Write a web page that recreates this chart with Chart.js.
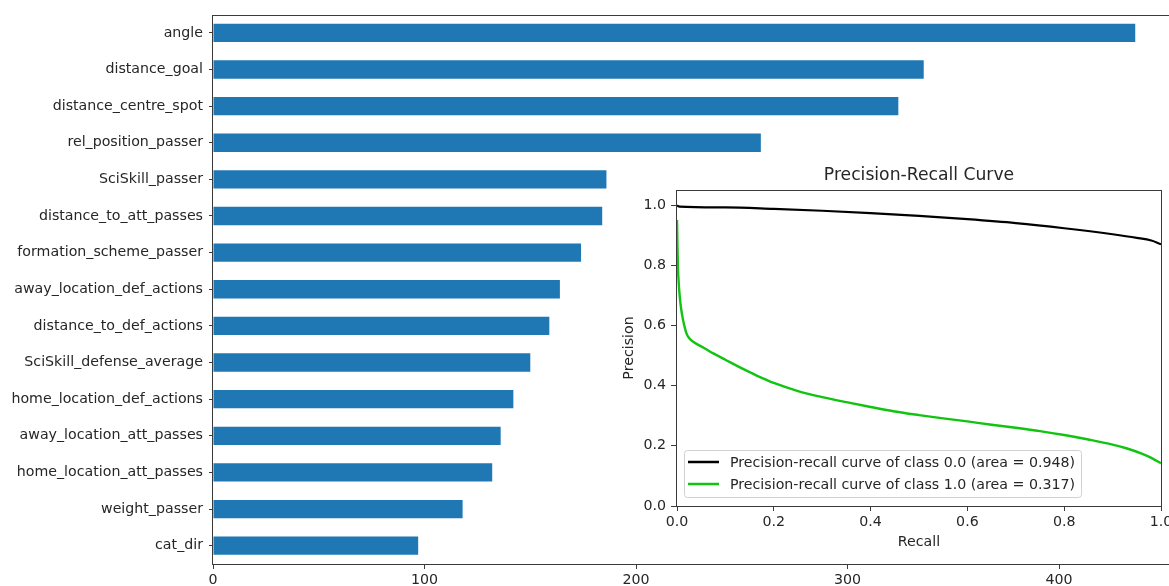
<!DOCTYPE html>
<html>
<head>
<meta charset="utf-8">
<title>Feature importance</title>
<script src="https://cdn.jsdelivr.net/npm/chart.js@4/dist/chart.umd.min.js"></script>
<style>
    html, body { margin: 0; padding: 0; background: #fff; overflow: hidden; }
    #wrap { position: relative; width: 1169px; height: 586px; overflow: hidden; }
    #main-chart { position: absolute; left: 0; top: 0; }
    #pr-chart { position: absolute; left: 600px; top: 160px; }
</style>
</head>
<body>
<div id="wrap">
    <canvas id="main-chart" width="1186" height="586"></canvas>
    <canvas id="pr-chart" width="569" height="400"></canvas>
</div>
<script>
// feature importances, top to bottom
const features = [
    'angle', 'distance_goal', 'distance_centre_spot', 'rel_position_passer',
    'SciSkill_passer', 'distance_to_att_passes', 'formation_scheme_passer',
    'away_location_def_actions', 'distance_to_def_actions', 'SciSkill_defense_average',
    'home_location_def_actions', 'away_location_att_passes', 'home_location_att_passes',
    'weight_passer', 'cat_dir'
];
const importance = [436, 336, 324, 259, 186, 184, 174, 164, 159, 150, 142, 136, 132, 118, 97];
const importanceTicks = [0, 100, 200, 300, 400];

// precision-recall curves
const recall0 = [0, 0.005, 0.1, 0.2, 0.3, 0.4, 0.5, 0.6, 0.7, 0.8, 0.9, 0.95, 0.98, 1.0];
const precision0 = [0.998, 0.995, 0.992, 0.987, 0.981, 0.973, 0.964, 0.953, 0.94, 0.923, 0.903, 0.891, 0.882, 0.87];
const recall1 = [0, 0.001, 0.002, 0.003, 0.006, 0.01, 0.015, 0.02, 0.025, 0.035, 0.055, 0.075, 0.1,
    0.125, 0.15, 0.175, 0.2, 0.25, 0.3, 0.35, 0.4, 0.45, 0.5, 0.55, 0.6, 0.65, 0.7, 0.75, 0.8, 0.85,
    0.9, 0.93, 0.96, 0.98, 1.0];
const precision1 = [0.95, 0.86, 0.79, 0.756, 0.69, 0.64, 0.6, 0.572, 0.558, 0.544, 0.526, 0.507, 0.486,
    0.465, 0.445, 0.426, 0.409, 0.382, 0.362, 0.345, 0.329, 0.314, 0.302, 0.291, 0.281, 0.27, 0.26,
    0.249, 0.236, 0.221, 0.204, 0.191, 0.174, 0.16, 0.142];
const prLabels = [
    'Precision-recall curve of class 0.0 (area = 0.948)',
    'Precision-recall curve of class 1.0 (area = 0.317)'
];
const prColors = ['#000000', '#12c412'];

Chart.defaults.font.family = "'DejaVu Sans', sans-serif";
Chart.defaults.font.size = 14.2;
Chart.defaults.color = '#262626';
Chart.defaults.animation = false;

const toPoints = (xs, ys) => xs.map((x, i) => ({ x: x, y: ys[i] }));

// box around the plot area, like matplotlib spines
const framePlugin = {
    id: 'frame',
    beforeDraw(chart) {
        const { ctx, chartArea: a } = chart;
        ctx.save();
        ctx.fillStyle = '#fff';
        ctx.fillRect(a.left, a.top, a.right - a.left, a.bottom - a.top);
        ctx.restore();
    },
    afterDraw(chart) {
        const { ctx, chartArea: a } = chart;
        ctx.save();
        ctx.strokeStyle = '#3a3a3a';
        ctx.lineWidth = 1;
        ctx.strokeRect(Math.round(a.left) - 0.5, Math.round(a.top) + 0.5,
            Math.round(a.right - a.left) + 1, Math.round(a.bottom - a.top));
        ctx.restore();
    }
};

const axisGrid = { display: true, drawOnChartArea: false, drawTicks: true, tickLength: 5, tickColor: '#3a3a3a' };

// keep tick labels at the edges from shrinking the plot area
const noEdgePadding = scale => { scale.paddingLeft = 0; scale.paddingRight = 0; };

new Chart(document.getElementById('main-chart'), {
    type: 'bar',
    data: {
        labels: features,
        datasets: [{
            data: importance,
            backgroundColor: '#1f77b4',
            borderWidth: 0,
            barPercentage: 0.5,
            categoryPercentage: 1.0
        }]
    },
    options: {
        indexAxis: 'y',
        responsive: false,
        layout: { padding: { top: 14, left: 0, right: 0, bottom: 0 } },
        plugins: { legend: { display: false }, tooltip: { enabled: false } },
        scales: {
            x: {
                min: 0,
                max: 460,
                grid: axisGrid,
                border: { display: false },
                afterBuildTicks(scale) {
                    scale.ticks = importanceTicks.map(v => ({ value: v }));
                },
                ticks: { padding: 3, maxRotation: 0, callback: v => String(v) },
                afterFit(scale) { scale.height = 22; noEdgePadding(scale); }
            },
            y: {
                grid: { ...axisGrid, tickLength: 4, offset: false },
                border: { display: false },
                ticks: { padding: 6 },
                afterFit(scale) { scale.width = 213; }
            }
        }
    },
    plugins: [framePlugin]
});

// title above the inset plot area
const prTitlePlugin = {
    id: 'prTitle',
    afterDraw(chart) {
        const { ctx, chartArea: a } = chart;
        ctx.save();
        ctx.font = "17.2px 'DejaVu Sans', sans-serif";
        ctx.fillStyle = '#262626';
        ctx.textAlign = 'center';
        ctx.textBaseline = 'middle';
        ctx.fillText('Precision-Recall Curve', (a.left + a.right) / 2, a.top - 14);
        ctx.restore();
    }
};

// legend box in the lower left corner of the plot area
const prLegendPlugin = {
    id: 'prLegend',
    afterDraw(chart) {
        const { ctx, chartArea: a } = chart;
        const rowH = 22;
        ctx.save();
        ctx.font = "14.2px 'DejaVu Sans', sans-serif";
        const textW = Math.max(...prLabels.map(t => ctx.measureText(t).width));
        const x = a.left + 7, w = 46 + textW + 6;
        const h = 47, y = a.bottom - 9 - h;
        ctx.beginPath();
        ctx.roundRect(x + 0.5, y + 0.5, w, h, 3);
        ctx.fillStyle = 'rgba(255,255,255,0.8)';
        ctx.fill();
        ctx.strokeStyle = '#d0d0d0';
        ctx.lineWidth = 1;
        ctx.stroke();
        prLabels.forEach((label, i) => {
            const cy = y + 12 + i * rowH;
            ctx.beginPath();
            ctx.moveTo(x + 4, cy);
            ctx.lineTo(x + 35, cy);
            ctx.strokeStyle = prColors[i];
            ctx.lineWidth = 2.5;
            ctx.stroke();
            ctx.fillStyle = '#262626';
            ctx.textBaseline = 'middle';
            ctx.fillText(label, x + 46, cy + 1);
        });
        ctx.restore();
    }
};

new Chart(document.getElementById('pr-chart'), {
    type: 'line',
    data: {
        datasets: [
            { label: prLabels[0], data: toPoints(recall0, precision0), borderColor: prColors[0], borderWidth: 2.2, pointRadius: 0, cubicInterpolationMode: 'monotone' },
            { label: prLabels[1], data: toPoints(recall1, precision1), borderColor: prColors[1], borderWidth: 2.4, pointRadius: 0, cubicInterpolationMode: 'monotone' }
        ]
    },
    options: {
        responsive: false,
        layout: { padding: { top: 30, left: 17, right: 8, bottom: 5 } },
        plugins: { legend: { display: false }, tooltip: { enabled: false } },
        scales: {
            x: {
                type: 'linear',
                min: 0,
                max: 1,
                grid: axisGrid,
                border: { display: false },
                ticks: { stepSize: 0.2, padding: 3, maxRotation: 0, callback: v => v.toFixed(1) },
                title: { display: true, text: 'Recall', padding: { top: 4, bottom: 4 } },
                afterFit(scale) { scale.height = 49; noEdgePadding(scale); }
            },
            y: {
                min: 0,
                max: 1.05,
                grid: { ...axisGrid, tickLength: 6 },
                border: { display: false },
                ticks: { stepSize: 0.2, padding: 5, includeBounds: false, callback: v => v.toFixed(1) },
                title: { display: true, text: 'Precision', padding: { top: 4, bottom: 4 } },
                afterFit(scale) { scale.width = 60; }
            }
        }
    },
    plugins: [framePlugin, prTitlePlugin, prLegendPlugin]
});
</script>
</body>
</html>
